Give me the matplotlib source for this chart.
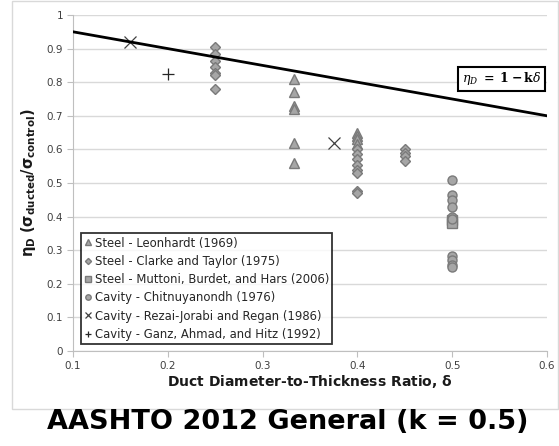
import matplotlib
matplotlib.use("Agg")
import matplotlib.pyplot as plt
from matplotlib.patches import Rectangle
import numpy as np

# ---- data ----
leon_x = [0.333, 0.333, 0.333, 0.333, 0.333, 0.333, 0.4, 0.4, 0.4, 0.4]
leon_y = [0.81, 0.77, 0.73, 0.72, 0.62, 0.56, 0.65, 0.64, 0.63, 0.615]

clarke_x = [0.25, 0.25, 0.25, 0.25, 0.25, 0.25, 0.25,
            0.4, 0.4, 0.4, 0.4, 0.4, 0.4, 0.4, 0.4,
            0.45, 0.45, 0.45, 0.45]
clarke_y = [0.905, 0.883, 0.863, 0.846, 0.826, 0.82, 0.78,
            0.60, 0.585, 0.57, 0.555, 0.54, 0.53, 0.475, 0.47,
            0.60, 0.59, 0.58, 0.565]

mutt_x = [0.5, 0.5]
mutt_y = [0.39, 0.38]

chit_x = [0.5, 0.5, 0.5, 0.5, 0.5, 0.5, 0.5, 0.5, 0.5, 0.5]
chit_y = [0.51, 0.464, 0.449, 0.428, 0.40, 0.392, 0.283, 0.271, 0.256, 0.249]

rezai_x = [0.16, 0.375]
rezai_y = [0.92, 0.618]

ganz_x = [0.2]
ganz_y = [0.825]

k = 0.5
line_x = [0.1, 0.6]

x_ticks = [0.1, 0.2, 0.3, 0.4, 0.5, 0.6]
y_ticks = [0, 0.1, 0.2, 0.3, 0.4, 0.5, 0.6, 0.7, 0.8, 0.9, 1]
y_ticklabels = ["0", "0.1", "0.2", "0.3", "0.4", "0.5", "0.6", "0.7", "0.8", "0.9", "1"]

labels = ["Steel - Leonhardt (1969)",
          "Steel - Clarke and Taylor (1975)",
          "Steel - Muttoni, Burdet, and Hars (2006)",
          "Cavity - Chitnuyanondh (1976)",
          "Cavity - Rezai-Jorabi and Regan (1986)",
          "Cavity - Ganz, Ahmad, and Hitz (1992)"]

# ---- figure ----
W, H = 559, 446
fig = plt.figure(figsize=(W / 100, H / 100), dpi=100)
plt.rcParams['mathtext.fontset'] = 'dejavusans'

# chart area border
fig.patches.append(Rectangle((12 / W, 1 - 409 / H), (W - 13) / W, 408 / H,
                             transform=fig.transFigure, fill=False,
                             edgecolor="#d9d9d9", linewidth=1))

ax = fig.add_axes([73 / W, 1 - 351 / H, (547 - 73) / W, (351 - 15) / H])

fill = "#a6a6a6"
edge = "#7a7a7a"

h1, = ax.plot(leon_x, leon_y, linestyle="none", marker="^", markersize=7,
              markerfacecolor=fill, markeredgecolor=edge, markeredgewidth=1, zorder=3)
h2, = ax.plot(clarke_x, clarke_y, linestyle="none", marker="D", markersize=5.2,
              markerfacecolor=fill, markeredgecolor=edge, markeredgewidth=1, zorder=3)
h3, = ax.plot(mutt_x, mutt_y, linestyle="none", marker="s", markersize=6.5,
              markerfacecolor=fill, markeredgecolor=edge, markeredgewidth=1, zorder=3)
h4, = ax.plot(chit_x, chit_y, linestyle="none", marker="o", markersize=6.5,
              markerfacecolor=fill, markeredgecolor=edge, markeredgewidth=1, zorder=3)
h5, = ax.plot(rezai_x, rezai_y, linestyle="none", marker="x", markersize=8,
              markeredgecolor="#404040", markeredgewidth=0.9, zorder=3)
h6, = ax.plot(ganz_x, ganz_y, linestyle="none", marker="+", markersize=8,
              markeredgecolor="#262626", markeredgewidth=0.9, zorder=3)

ly = [1 - k * x for x in line_x]
ax.plot(line_x, ly, color="black", linewidth=2, zorder=4)

ax.set_xlim(0.1, 0.6)
ax.set_ylim(0, 1)
ax.set_xticks(x_ticks)
ax.set_xticklabels([f"{t:g}" for t in x_ticks])
ax.set_yticks(y_ticks)
ax.set_yticklabels(y_ticklabels)
ax.tick_params(axis="x", length=4, color="#bfbfbf", labelsize=7.5, labelcolor="#404040", pad=3)
ax.tick_params(axis="y", length=4, color="#bfbfbf", labelsize=7.5, labelcolor="#404040", pad=3)
ax.grid(axis="y", color="#d9d9d9", linewidth=1)
ax.set_axisbelow(True)
for s in ["top", "right"]:
    ax.spines[s].set_visible(False)
for s in ["left", "bottom"]:
    ax.spines[s].set_color("#bfbfbf")

ax.set_xlabel(r"Duct Diameter-to-Thickness Ratio, $\mathbf{\delta}$",
              fontsize=10, fontweight="bold", color="#1a1a1a", labelpad=2)
ax.set_ylabel(r"$\mathbf{\eta_D\ (\sigma_{ducted}/\sigma_{control})}$",
              fontsize=10.5, color="#1a1a1a", labelpad=6)

ax.text(0.594, 0.81, r"$\eta_{D}\ \mathbf{=\ 1 - k}\delta$", fontsize=9,
        ha="right", va="center", math_fontfamily="dejavuserif",
        bbox=dict(boxstyle="square,pad=0.3", facecolor="white",
                  edgecolor="black", linewidth=1.5), zorder=5)

leg = ax.legend([h1, h2, h3, h4, h5, h6], labels, loc="lower left",
                bbox_to_anchor=(0.016, 0.02), fontsize=8.4, markerscale=0.6,
                handlelength=0.6, handletextpad=0.3, borderpad=0.3,
                labelspacing=0.45, frameon=True, fancybox=False,
                labelcolor="#262626", borderaxespad=0)
leg.get_frame().set_edgecolor("black")
leg.get_frame().set_linewidth(1.3)

fig.text(288 / W, 1 - 422 / H, "AASHTO 2012 General (k = 0.5)", fontsize=19.5,
         fontweight="bold", ha="center", va="center", color="black")

fig.savefig("out.png", dpi=100)
